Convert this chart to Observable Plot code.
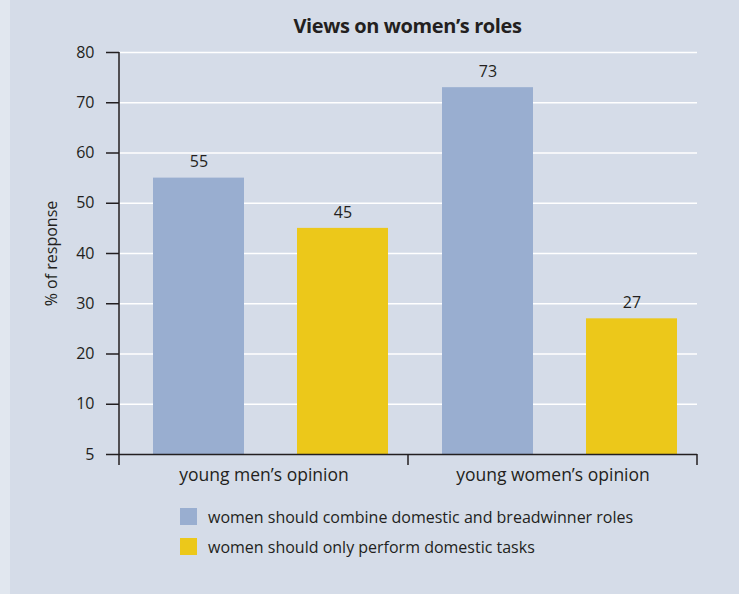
<!DOCTYPE html>
<html><head><meta charset="utf-8">
<script src="https://cdn.jsdelivr.net/npm/d3@7"></script>
<script src="https://cdn.jsdelivr.net/npm/@observablehq/plot@0.6"></script>
<style>
html,body{margin:0;padding:0;}
body{position:relative;width:739px;height:594px;overflow:hidden;
  background:linear-gradient(to right,#e1e7ef 0,#e1e7ef 10px,#d5dce8 10px);
  font-family:"Open Sans",sans-serif;color:#231f20;}
#title{position:absolute;left:118px;top:13px;width:579px;text-align:center;
  font-size:20px;font-weight:700;line-height:26px;margin:0;letter-spacing:-0.4px;}
#chart{position:absolute;left:0;top:40px;}
#legend{position:absolute;left:180px;top:508px;font-size:16px;}
.row{display:flex;align-items:center;height:17px;margin-bottom:13px;}
.sw{width:17px;height:17px;margin-right:11px;}
</style></head>
<body>
<div id="title">Views on women’s roles</div>
<div id="chart"></div>
<div id="legend"></div>
<script>
const groups = ["young men’s opinion", "young women’s opinion"];
const series = ["women should combine domestic and breadwinner roles", "women should only perform domestic tasks"];
const combineValues = [55, 73];
const domesticValues = [45, 27];
const colors = ["#99aed0", "#ecc81a"];
const yTicks = [0, 10, 20, 30, 40, 50, 60, 70, 80];
const yTickLabels = ["5", "10", "20", "30", "40", "50", "60", "70", "80"];

const data = groups.flatMap((g, i) => [
  {group: g, series: series[0], value: combineValues[i]},
  {group: g, series: series[1], value: domesticValues[i]}
]);

const ink = "#231f20";
const plot = Plot.plot({
  width: 739, height: 454,
  marginTop: 12, marginLeft: 118, marginRight: 42, marginBottom: 40,
  style: {background: "transparent", fontFamily: "'Open Sans', sans-serif", fontSize: "16px", color: ink},
  fx: {domain: groups, padding: 0},
  x: {domain: series, paddingInner: 0.369, paddingOuter: 0.183, align: 0.623, axis: null},
  y: {domain: [0, 80]},
  color: {domain: series, range: colors},
  marks: [
    Plot.gridY(yTicks.slice(1), {stroke: "#ffffff", strokeOpacity: 1, strokeWidth: 1.5}),
    Plot.barY(data, {fx: "group", x: "series", y: "value", fill: "series"}),
    Plot.text(data, {fx: "group", x: "series", y: "value", text: "value", dy: -16, fontSize: 16, fill: ink}),
    Plot.ruleY([0], {stroke: ink, strokeWidth: 1.5}),
    Plot.axisY(yTicks, {tickSize: 13, tickPadding: 12, strokeWidth: 1.5, stroke: ink,
      tickFormat: d => yTickLabels[yTicks.indexOf(d)], fontSize: 16,
      label: "% of response", labelArrow: false, labelAnchor: "center", labelOffset: 74}),
    Plot.axisFx({anchor: "bottom", tickSize: 0, tickPadding: 14, label: null, fontSize: 17.5})
  ]
});

// axis line and group-boundary ticks, positioned from the plot's own scales
const fx = plot.scale("fx"), y = plot.scale("y");
const edges = [...groups.map(g => fx.apply(g)), fx.apply(groups[groups.length - 1]) + fx.bandwidth];
const y0 = y.apply(0), yTop = y.apply(80);
const g = d3.select(plot).append("g").attr("stroke", ink).attr("stroke-width", 1.5);
g.append("line").attr("x1", edges[0]).attr("x2", edges[0]).attr("y1", yTop).attr("y2", y0 + 11);
edges.slice(1).forEach(e => g.append("line").attr("x1", e).attr("x2", e).attr("y1", y0).attr("y2", y0 + 11));

// drop any automatic arrow from the y label if this Plot build adds one
d3.select(plot).selectAll("text").each(function() {
  const t = d3.select(this);
  if (t.text().includes("% of response")) t.text("% of response");
});

document.getElementById("chart").appendChild(plot);

const legend = d3.select("#legend");
series.forEach((s, i) => {
  const row = legend.append("div").attr("class", "row");
  row.append("div").attr("class", "sw").style("background", colors[i]);
  row.append("span").text(s);
});
</script>
</body></html>
